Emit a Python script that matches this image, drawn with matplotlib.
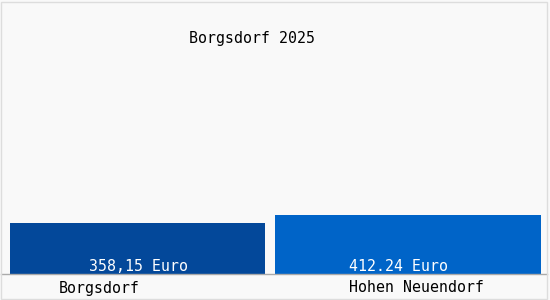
import matplotlib
matplotlib.use("Agg")
from matplotlib import pyplot as plt
from matplotlib.patches import Rectangle

# data
places = ["Borgsdorf", "Hohen Neuendorf"]
values = [358.15, 412.24]
value_labels = ["358,15 Euro", "412.24 Euro"]
title = "Borgsdorf 2025"

colors = ["#03489a", "#0064c8"]
W, H = 550, 300
fig = plt.figure(figsize=(W / 100, H / 100), dpi=100)
fig.patch.set_facecolor("#f9f9f9")
fig.patches.append(Rectangle((1 / W, 1 / H), 546 / W, 297 / H, transform=fig.transFigure,
                             fill=False, edgecolor="#dddddd", linewidth=1))

# plot area: x 2.5..543 px, y 4..274 px (from top)
unit = 270.3
ax = fig.add_axes([2.5 / W, 26 / H, 2 * unit / W, 270 / H])
ax.set_facecolor("none")
ax.bar([0, 1], values, width=[255 / unit, 266 / unit], color=colors)
ax.set_xlim(-0.5, 1.5)
ax.set_ylim(0, 270 / 0.1425)
for s in ax.spines.values():
    s.set_visible(False)
ax.axhline(0, xmin=-1.5 / (2 * unit), xmax=544.5 / (2 * unit), color="#aaaaaa",
           linewidth=1, clip_on=False)
ax.set_xticks([])
ax.set_yticks([])

font = dict(family="DejaVu Sans Mono", fontsize=10.7)
label_shift = [-38 / unit, 9 / unit]
value_shift = [1 / unit, -9 / unit]
top = ax.get_ylim()[1]
for i in range(len(values)):
    ax.text(i + value_shift[i], 0, value_labels[i], color="white", ha="center", va="bottom",
            **font)
    ax.text(i + label_shift[i], -14 / 270 * top, places[i], color="black",
            ha="center", va="center", clip_on=False, **font)

fig.text(252 / W, 1 - 38 / H, title, ha="center", va="center", color="black", **font)

fig.savefig("out.png", dpi=100, facecolor=fig.get_facecolor())
